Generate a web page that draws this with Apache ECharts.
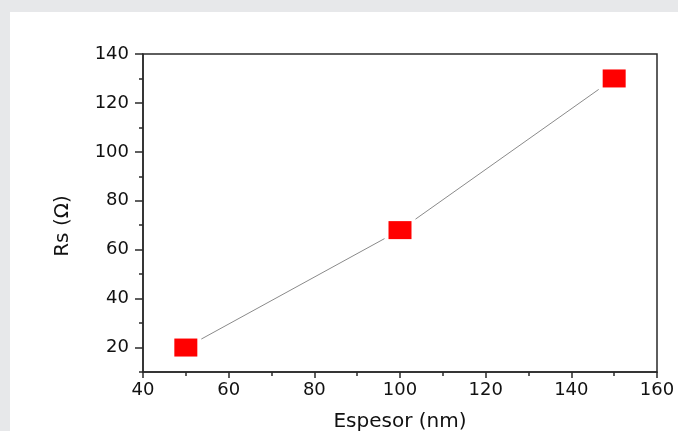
<!DOCTYPE html>
<html>
<head>
<meta charset="utf-8">
<script src="https://cdn.jsdelivr.net/npm/echarts@6/dist/echarts.min.js"></script>
<style>
html,body{margin:0;padding:0;background:#e7e8ea;}
#panel{position:absolute;left:10px;top:12px;width:668px;height:419px;background:#ffffff;}
#chart{position:absolute;left:0;top:0;width:678px;height:431px;}
</style>
</head>
<body>
<div id="panel"></div>
<div id="chart"></div>
<script>
const thickness = [50, 100, 150];
const resistance = [20, 68, 130];
const yTickLabels = [20, 40, 60, 80, 100, 120, 140];
const xTitle = 'Espesor (nm)';
const yTitle = 'Rs (\u03A9)';

const points = thickness.map((x, i) => [x, resistance[i]]);
const axisColor = '#2a2a2a';
const font = 'DejaVu Sans';

const chart = echarts.init(document.getElementById('chart'), null, {renderer: 'canvas', width: 678, height: 431});
chart.setOption({
  backgroundColor: 'transparent',
  animation: false,
  grid: {left: 143, right: 21, top: 54, bottom: 59, outerBoundsMode: 'none', containLabel: false,
         show: true, borderColor: axisColor, borderWidth: 1.5, backgroundColor: 'transparent'},
  xAxis: {
    type: 'value', min: 40, max: 160, interval: 20,
    name: xTitle, nameLocation: 'middle', nameGap: 40,
    nameTextStyle: {fontFamily: font, fontSize: 20, color: '#111'},
    axisLine: {show: true, lineStyle: {color: axisColor, width: 1.5}},
    axisTick: {show: true, inside: false, length: 6, lineStyle: {color: axisColor, width: 1.5}},
    minorTick: {show: true, splitNumber: 2, length: 4, lineStyle: {color: axisColor, width: 1.5}},
    axisLabel: {fontFamily: font, fontSize: 18, color: '#111', margin: 9},
    splitLine: {show: false}
  },
  yAxis: [{
    type: 'value', min: 10, max: 140, interval: 10,
    axisLine: {show: true, lineStyle: {color: axisColor, width: 1.5}},
    axisTick: {show: true, inside: false, length: 4, lineStyle: {color: axisColor, width: 1.5}},
    axisLabel: {show: false},
    splitLine: {show: false}
  }, {
    type: 'value', min: 10, max: 140, position: 'left',
    name: yTitle, nameLocation: 'middle', nameGap: 70,
    nameTextStyle: {fontFamily: font, fontSize: 20, color: '#111', padding: [0, 26, 0, 0]},
    axisLine: {show: false},
    axisTick: {show: true, inside: false, length: 8, customValues: yTickLabels, lineStyle: {color: axisColor, width: 1.5}},
    axisLabel: {fontFamily: font, fontSize: 18, color: '#111', margin: 14, customValues: yTickLabels},
    splitLine: {show: false}
  }],
  series: [{
    type: 'line', data: points, yAxisIndex: 0, symbol: 'none', z: 2,
    lineStyle: {color: '#8a8a8a', width: 1}
  }, {
    type: 'scatter', data: points, yAxisIndex: 0, symbol: 'rect', symbolSize: [31, 25], z: 3,
    itemStyle: {color: '#ffffff', opacity: 1}, silent: true
  }, {
    type: 'scatter', data: points, yAxisIndex: 0, symbol: 'rect', symbolSize: [23, 18], z: 4,
    itemStyle: {color: '#ff0000', opacity: 1}
  }]
});
</script>
</body>
</html>
